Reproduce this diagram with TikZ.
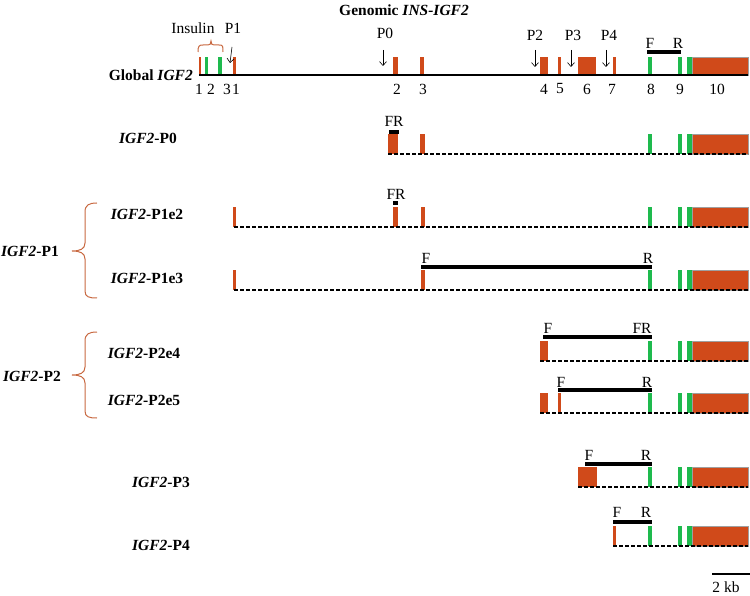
\documentclass[tikz,border=0pt]{standalone}
\usepackage{fontspec}
\setmainfont{Liberation Serif}
\usetikzlibrary{arrows.meta}
\definecolor{brn}{RGB}{208,74,26}
\definecolor{grn}{RGB}{30,186,78}
\definecolor{brc}{RGB}{200,105,65}
\newcommand\igf{\textit{IGF2}}
\newcommand\bx[3]{\fill[brn] (#1,{#3-20}) rectangle (#2,#3);}
\newcommand\tailgrp[2]{%
  \fill[grn] (648,#1) rectangle (652,#2);
  \fill[grn] (678,#1) rectangle (682,#2);
  \fill[grn] (687,#1) rectangle (692,#2);
  \filldraw[fill=brn,draw=gray!75,line width=0.8pt] (692,#1) rectangle (748,#2);}
\begin{document}
\begin{tikzpicture}[x=1pt,y=-1pt,
  lbl/.style={font=\fontsize{15.5}{18}\selectfont\bfseries, inner sep=0pt},
  num/.style={font=\fontsize{15.5}{18}\selectfont, inner sep=0pt},
  intron/.style={line width=1.6pt},
  dashline/.style={line width=1.8pt, dash pattern=on 4pt off 2pt},
  primer/.style={line width=3.2pt},
  parrow/.style={-{Straight Barb[length=4pt,width=7pt]}, line width=0.6pt},
  bracestyle/.style={brc, line width=1pt}]
\useasboundingbox (0,0) rectangle (750,596);

% title
\node[lbl] (title) at (404,10) {Genomic \textit{INS-IGF2}};

% ---------- Genomic row ----------
\node[lbl, anchor=east] (glob) at (193,75) {Global \igf};
\coordinate (gs) at (199,75);
\coordinate (ge) at (748,75);
\fill[brn] (199,57) rectangle (201,75);
\fill[grn] (205,57) rectangle (208,75);
\fill[grn] (218,57) rectangle (222,75);
\fill[brn] (233,57) rectangle (236,75);
\fill[brn] (393,57) rectangle (398,75);
\fill[brn] (420,57) rectangle (424,75);
\fill[brn] (540,57) rectangle (548,75);
\fill[brn] (558,57) rectangle (561,75);
\fill[brn] (578,57) rectangle (596,75);
\fill[brn] (613,57) rectangle (616,75);
\tailgrp{57}{75}
\draw[intron] (gs) -- (ge);

\foreach \x/\t [count=\i] in {199/1,211/2,227/3,236/1,397/2,423/3,544/4,560/5,587/6,612/7,651/8,680/9,717/10}
  \node[num] (n\i) at (\x,89) {\t};

\node[num] (ins) at (193,28) {Insulin};
\draw[bracestyle] (198,52) .. controls (198,46) and (199,45) .. (203,45) -- (208,45)
  .. controls (210,45) and (211,44) .. (211,41) .. controls (211,44) and (212,45) .. (214,45)
  -- (219,45) .. controls (223,45) and (223,46) .. (223,52);

\node[num] (lp1) at (233,28) {P1};
\node[num] (lp0) at (385,33) {P0};
\node[num] (lp2) at (535,35) {P2};
\node[num] (lp3) at (573,35) {P3};
\node[num] (lp4) at (609,35) {P4};
\coordinate (a1s) at (232,47); \coordinate (a1e) at (230,63);
\coordinate (a0s) at (383,50); \coordinate (a0e) at (383,66);
\coordinate (a2s) at (535,50); \coordinate (a2e) at (535,67);
\coordinate (a3s) at (571,50); \coordinate (a3e) at (571,67);
\coordinate (a4s) at (606,50); \coordinate (a4e) at (606,67);
\foreach \k in {1,0,2,3,4} \draw[parrow] (a\k s) -- (a\k e);

\coordinate (gF) at (647,52); \coordinate (gR) at (681,52);
\draw[primer] (gF) -- (gR);
\node[num] (gFl) at (650,43) {F};
\node[num] (gRl) at (678,43) {R};

% ---------- IGF2-P0 ----------
\node[lbl] (l0) at (148,138) {\igf-P0};
\bx{388}{398}{154}
\bx{420}{425}{154}
\tailgrp{134}{154}
\coordinate (r0s) at (388,154); \coordinate (r0e) at (748,154);
\draw[dashline] (r0s) -- (r0e);
\coordinate (p0a) at (389,132); \coordinate (p0b) at (399,132);
\draw[primer] (p0a) -- (p0b);
\node[num] (p0l) at (394,121) {FR};

% ---------- IGF2-P1 ----------
\node[lbl] (l1) at (30,251) {\igf-P1};
\draw[bracestyle] (97,203) .. controls (89,203) and (85,205) .. (85,212) -- (85,243)
  .. controls (85,249) and (80,251) .. (72,251) .. controls (80,251) and (85,253) .. (85,259)
  -- (85,291) .. controls (85,297) and (89,298) .. (97,298);

\node[lbl] (l1e2) at (147,214) {\igf-P1e2};
\bx{233}{236}{227}
\bx{393}{398}{227}
\bx{421}{425}{227}
\tailgrp{207}{227}
\coordinate (r1s) at (234,227); \coordinate (r1e) at (748,227);
\draw[dashline] (r1s) -- (r1e);
\coordinate (p1a) at (393,203); \coordinate (p1b) at (398,203);
\draw[primer] (p1a) -- (p1b);
\node[num] (p1l) at (396,194) {FR};

\node[lbl] (l1e3) at (147,278) {\igf-P1e3};
\bx{233}{236}{290}
\bx{421}{425}{290}
\tailgrp{270}{290}
\coordinate (r2s) at (234,290); \coordinate (r2e) at (748,290);
\draw[dashline] (r2s) -- (r2e);
\coordinate (p2a) at (421,267); \coordinate (p2b) at (652,267);
\draw[primer] (p2a) -- (p2b);
\node[num] (p2f) at (426,258) {F};
\node[num] (p2r) at (648,258) {R};

% ---------- IGF2-P2 ----------
\node[lbl] (l2) at (32,376) {\igf-P2};
\draw[bracestyle] (97,332) .. controls (89,332) and (85,334) .. (85,341) -- (85,367)
  .. controls (85,373) and (80,375) .. (72,375) .. controls (80,375) and (85,377) .. (85,383)
  -- (85,411) .. controls (85,417) and (89,418) .. (97,418);

\node[lbl] (l2e4) at (144,353) {\igf-P2e4};
\bx{540}{548}{361}
\tailgrp{341}{361}
\coordinate (r3s) at (540,361); \coordinate (r3e) at (748,361);
\draw[dashline] (r3s) -- (r3e);
\coordinate (p3a) at (543,337); \coordinate (p3b) at (652,337);
\draw[primer] (p3a) -- (p3b);
\node[num] (p3f) at (548,328) {F};
\node[num] (p3r) at (642,328) {FR};

\node[lbl] (l2e5) at (144,400) {\igf-P2e5};
\bx{540}{548}{413}
\bx{558}{561}{413}
\tailgrp{393}{413}
\coordinate (r4s) at (540,413); \coordinate (r4e) at (748,413);
\draw[dashline] (r4s) -- (r4e);
\coordinate (p4a) at (558,390); \coordinate (p4b) at (652,390);
\draw[primer] (p4a) -- (p4b);
\node[num] (p4f) at (561,382) {F};
\node[num] (p4r) at (647,382) {R};

% ---------- IGF2-P3 ----------
\node[lbl] (l3) at (161,482) {\igf-P3};
\bx{578}{597}{487}
\tailgrp{467}{487}
\coordinate (r5s) at (578,487); \coordinate (r5e) at (748,487);
\draw[dashline] (r5s) -- (r5e);
\coordinate (p5a) at (585,464); \coordinate (p5b) at (652,464);
\draw[primer] (p5a) -- (p5b);
\node[num] (p5f) at (589,455) {F};
\node[num] (p5r) at (646,455) {R};

% ---------- IGF2-P4 ----------
\node[lbl] (l4) at (161,545) {\igf-P4};
\bx{613}{616}{546}
\tailgrp{526}{546}
\coordinate (r6s) at (613,546); \coordinate (r6e) at (748,546);
\draw[dashline] (r6s) -- (r6e);
\coordinate (p6a) at (613,522); \coordinate (p6b) at (652,522);
\draw[primer] (p6a) -- (p6b);
\node[num] (p6f) at (617,512) {F};
\node[num] (p6r) at (646,512) {R};

% scale bar
\coordinate (sb1) at (712,574); \coordinate (sb2) at (750,574);
\draw[line width=1.6pt] (sb1) -- (sb2);
\node[num] (sbl) at (726,587) {2 kb};
\end{tikzpicture}
\end{document}
